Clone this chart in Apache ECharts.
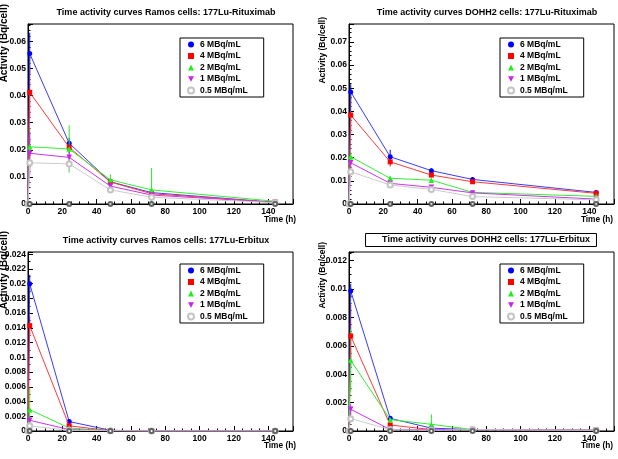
<!DOCTYPE html>
<html><head><meta charset="utf-8">
<script src="https://cdn.jsdelivr.net/npm/echarts@6/dist/echarts.min.js"></script>
<style>html,body{margin:0;padding:0;background:#fff}#c{width:618px;height:459px}</style>
</head><body><div id="c"></div>
<script>
// ---------- data ----------
const times = [0, 1, 24, 48, 72, 144];
const zeroTimes = [1, 24, 48, 72, 144];
const zeroValues = [0, 0, 0, 0, 0];
const doseNames = ['6 MBq/mL', '4 MBq/mL', '2 MBq/mL', '1 MBq/mL', '0.5 MBq/mL'];
const panelTitles = [
  'Time activity curves Ramos cells: 177Lu-Rituximab',
  'Time activity curves DOHH2 cells: 177Lu-Rituximab',
  'Time activity curves Ramos cells: 177Lu-Erbitux',
  'Time activity curves DOHH2 cells: 177Lu-Erbitux'
];
const xTitle = 'Time (h)';
const yTitle = 'Activity (Bq/cell)';

// Panel 1: Ramos, 177Lu-Rituximab
const ramosRitux6  = [0, 0.0555, 0.0224, 0.0082, 0.0042, 0.0006];
const ramosRitux4  = [0, 0.0412, 0.0209, 0.0081, 0.0038, 0.0006];
const ramosRitux2  = [0, 0.0211, 0.0203, 0.0089, 0.0052, 0.0010];
const ramosRitux1  = [0, 0.0187, 0.0172, 0.0066, 0.0033, 0.0006];
const ramosRitux05 = [0, 0.0152, 0.0148, 0.0052, 0.0025, 0.0005];
const ramosRitux6Err  = [0, 0.0077, 0.0020, 0.0005, 0.0005, 0.0002];
const ramosRitux4Err  = [0, 0.0095, 0.0020, 0.0008, 0.0005, 0.0002];
const ramosRitux2Err  = [0, 0.0070, 0.0087, 0.0020, 0.0081, 0.0002];
const ramosRitux1Err  = [0, 0.0080, 0.0020, 0.0010, 0.0008, 0.0002];
const ramosRitux05Err = [0, 0.0040, 0.0030, 0.0010, 0.0010, 0.0002];

// Panel 2: DOHH2, 177Lu-Rituximab
const dohRitux6  = [0, 0.0484, 0.0204, 0.0144, 0.0106, 0.0050];
const dohRitux4  = [0, 0.0384, 0.0182, 0.0125, 0.0096, 0.0046];
const dohRitux2  = [0, 0.0204, 0.0111, 0.0103, 0.0050, 0.0033];
const dohRitux1  = [0, 0.0178, 0.0089, 0.0072, 0.0048, 0.0021];
const dohRitux05 = [0, 0.0139, 0.0082, 0.0063, 0.0032, 0.0018];
const dohRitux6Err  = [0, 0.0033, 0.0030, 0.0010, 0.0008, 0.0005];
const dohRitux4Err  = [0, 0.0075, 0.0020, 0.0010, 0.0008, 0.0005];
const dohRitux2Err  = [0, 0.0020, 0.0008, 0.0008, 0.0005, 0.0003];
const dohRitux1Err  = [0, 0.0020, 0.0008, 0.0005, 0.0005, 0.0003];
const dohRitux05Err = [0, 0.0020, 0.0005, 0.0005, 0.0003, 0.0002];

// Panel 3: Ramos, 177Lu-Erbitux
const ramosErb6  = [0, 0.0200, 0.00128, 0.0001, 0, 0];
const ramosErb4  = [0, 0.0143, 0.0007, 0.00005, 0, 0];
const ramosErb2  = [0, 0.0029, 0.0004, 0.00005, 0, 0];
const ramosErb1  = [0, 0.00145, 0.0002, 0.00005, 0, 0];
const ramosErb05 = [0, 0.0007, 0.0001, 0.00003, 0, 0];
const ramosErb6Err  = [0, 0.0012, 0.0002, 0, 0, 0];
const ramosErb4Err  = [0, 0.0013, 0.0002, 0, 0, 0];
const ramosErb2Err  = [0, 0.0030, 0.0001, 0, 0, 0];
const ramosErb1Err  = [0, 0.0005, 0, 0, 0, 0];
const ramosErb05Err = [0, 0.0003, 0, 0, 0, 0];

// Panel 4: DOHH2, 177Lu-Erbitux
const dohErb6  = [0, 0.00986, 0.00089, 0.0002, 0.0001, 0.00005];
const dohErb4  = [0, 0.00669, 0.00042, 0.0001, 0.0001, 0.00005];
const dohErb2  = [0, 0.00498, 0.0008, 0.00047, 0.0001, 0.00005];
const dohErb1  = [0, 0.00153, 0.0001, 0.0001, 0.0001, 0.00005];
const dohErb05 = [0, 0.00087, 0.0001, 0.00005, 0.0001, 0.00005];
const dohErb6Err  = [0, 0.0005, 0.0001, 0.0001, 0, 0];
const dohErb4Err  = [0, 0.0022, 0.0001, 0, 0, 0];
const dohErb2Err  = [0, 0.0022, 0.0001, 0.0007, 0, 0];
const dohErb1Err  = [0, 0.0004, 0, 0, 0, 0];
const dohErb05Err = [0, 0.0003, 0, 0, 0, 0];

const panelValues = [
  [ramosRitux6, ramosRitux4, ramosRitux2, ramosRitux1, ramosRitux05],
  [dohRitux6, dohRitux4, dohRitux2, dohRitux1, dohRitux05],
  [ramosErb6, ramosErb4, ramosErb2, ramosErb1, ramosErb05],
  [dohErb6, dohErb4, dohErb2, dohErb1, dohErb05]
];
const panelErrors = [
  [ramosRitux6Err, ramosRitux4Err, ramosRitux2Err, ramosRitux1Err, ramosRitux05Err],
  [dohRitux6Err, dohRitux4Err, dohRitux2Err, dohRitux1Err, dohRitux05Err],
  [ramosErb6Err, ramosErb4Err, ramosErb2Err, ramosErb1Err, ramosErb05Err],
  [dohErb6Err, dohErb4Err, dohErb2Err, dohErb1Err, dohErb05Err]
];

// ---------- layout / style ----------
const FONT = '"Liberation Sans", Arial, Helvetica, sans-serif';
const colors = ['#0000ff', '#ff0000', '#22ee22', '#cc22ee', '#c4c4c4'];
const lineColors = ['#3a3aff', '#ff3a3a', '#33ee33', '#cc33ee', '#cccccc'];
const invTri = 'path://M0,0L10,0L5,9Z';
const symbols = ['circle', 'rect', 'triangle', invTri, 'emptyCircle'];
const symbolSizes = [5, 5, 5.5, 5.5, 5];

const grids = [
  {left: 28, top: 24, width: 265, height: 180},
  {left: 349, top: 24, width: 265, height: 180},
  {left: 28, top: 252, width: 265, height: 179},
  {left: 349, top: 252, width: 265, height: 179}
];
const yMax = [0.0664, 0.0777, 0.0243, 0.0126];
const yInterval = [0.01, 0.01, 0.002, 0.002];
const yMinor = [5, 5, 2, 4];
const xMax = 154.4;
const legendPos = [[180, 38], [500, 38], [180, 264], [500, 264]];

function fmtY(v) {
  if (Math.abs(v) < 1e-12) return '0';
  return String(+v.toPrecision(4));
}

const option = {
  animation: false,
  backgroundColor: '#ffffff',
  textStyle: {fontFamily: FONT},
  grid: grids.map(g => Object.assign({show: true, borderColor: '#000', borderWidth: 1, backgroundColor: 'transparent'}, g)),
  xAxis: grids.map((g, i) => ({
    type: 'value', gridIndex: i, min: 0, max: xMax, interval: 20,
    axisLine: {show: true, onZero: false, lineStyle: {color: '#000', width: 1}},
    axisTick: {show: true, inside: true, length: 5, lineStyle: {color: '#000'}},
    minorTick: {show: true, splitNumber: 4, length: 2.5, lineStyle: {color: '#000'}},
    splitLine: {show: false},
    axisLabel: {
      show: true, margin: 3, color: '#000', fontSize: 8.5, fontWeight: 'bold', fontFamily: FONT,
      showMaxLabel: false,
      formatter: v => (Math.abs(v % 20) < 1e-9 ? String(v) : '')
    }
  })),
  yAxis: grids.map((g, i) => ({
    type: 'value', gridIndex: i, min: 0, max: yMax[i], interval: yInterval[i],
    axisLine: {show: true, onZero: false, lineStyle: {color: '#000', width: 1}},
    axisTick: {show: true, inside: true, length: 5, lineStyle: {color: '#000'}},
    minorTick: {show: true, splitNumber: yMinor[i], length: 2.5, lineStyle: {color: '#000'}},
    splitLine: {show: false},
    axisLabel: {
      show: true, margin: 2, color: '#000', fontSize: 8.5, fontWeight: 'bold', fontFamily: FONT,
      showMaxLabel: false,
      formatter: fmtY
    }
  })),
  legend: legendPos.map(p => ({
    orient: 'vertical', left: p[0], top: p[1],
    backgroundColor: '#fff', borderColor: '#000', borderWidth: 1,
    padding: [1, 16, 1, 7], itemGap: 0.5, itemWidth: 6, itemHeight: 6,
    selectedMode: false,
    textStyle: {color: '#000', fontSize: 8.5, fontWeight: 'bold', fontFamily: FONT, lineHeight: 11, padding: [0, 0, 0, 1]},
    data: doseNames.map((n, k) => ({name: n, icon: symbols[k]}))
  })),
  graphic: [],
  series: []
};

// series
panelValues.forEach((vals, p) => {
  vals.forEach((arr, k) => {
    option.series.push({
      type: 'line', name: doseNames[k], xAxisIndex: p, yAxisIndex: p,
      data: times.map((t, j) => [t, arr[j]]),
      symbol: symbols[k], symbolSize: symbolSizes[k], showSymbol: true,
      lineStyle: {color: lineColors[k], width: 1},
      itemStyle: {color: colors[k], borderColor: colors[k], borderWidth: k === 4 ? 1 : 0},
      z: 3 + k
    });
    const errs = panelErrors[p][k];
    option.series.push({
      type: 'custom', name: doseNames[k], xAxisIndex: p, yAxisIndex: p,
      data: times.map((t, j) => [t, arr[j], errs[j]]),
      z: 2 + k,
      renderItem: (params, api) => {
        const x = api.value(0), y = api.value(1), e = api.value(2);
        if (!e) return null;
        const lo = Math.max(0, y - e);
        const a = api.coord([x, lo]), b = api.coord([x, y + e]);
        return {type: 'line', shape: {x1: a[0], y1: a[1], x2: b[0], y2: b[1]},
          style: {stroke: colors[k], lineWidth: 1}};
      }
    });
  });
  option.series.push({
    type: 'scatter', name: 'zero', xAxisIndex: p, yAxisIndex: p,
    data: zeroTimes.map((t, j) => [t, zeroValues[j]]),
    symbol: 'emptyCircle', symbolSize: 4,
    itemStyle: {color: '#444', borderColor: '#444', borderWidth: 1}, z: 10
  });
});

// text elements: titles, axis names
const titlePos = [[166, 13], [487, 13], [166, 241], [486, 240]];
option.graphic.push({type: 'rect', shape: {x: 365.5, y: 233.5, width: 231, height: 13},
  style: {fill: '#fff', stroke: '#000', lineWidth: 1}, z: 1});
panelTitles.forEach((t, i) => {
  option.graphic.push({type: 'text', x: titlePos[i][0], y: titlePos[i][1], z: 5,
    style: {text: t, fill: '#000', fontSize: 9, fontWeight: 'bold', fontFamily: FONT, align: 'center', verticalAlign: 'middle'}});
});
const yNamePos = [[4, 4, 10], [323, 17, 8.5], [4, 231, 10], [323, 242, 8.5]];
yNamePos.forEach(p => {
  option.graphic.push({type: 'text', x: p[0], y: p[1], rotation: Math.PI / 2, z: 5,
    style: {text: yTitle, fill: '#000', fontSize: p[2], fontWeight: 'bold', fontFamily: FONT, align: 'right', verticalAlign: 'middle'}});
});
const xNamePos = [[296, 220], [613, 220], [296, 446], [613, 446]];
xNamePos.forEach(p => {
  option.graphic.push({type: 'text', x: p[0], y: p[1], z: 5,
    style: {text: xTitle, fill: '#000', fontSize: 8.3, fontWeight: 'bold', fontFamily: FONT, align: 'right', verticalAlign: 'middle'}});
});

const chart = echarts.init(document.getElementById('c'), null, {renderer: 'canvas'});
chart.setOption(option);
</script>
</body></html>
